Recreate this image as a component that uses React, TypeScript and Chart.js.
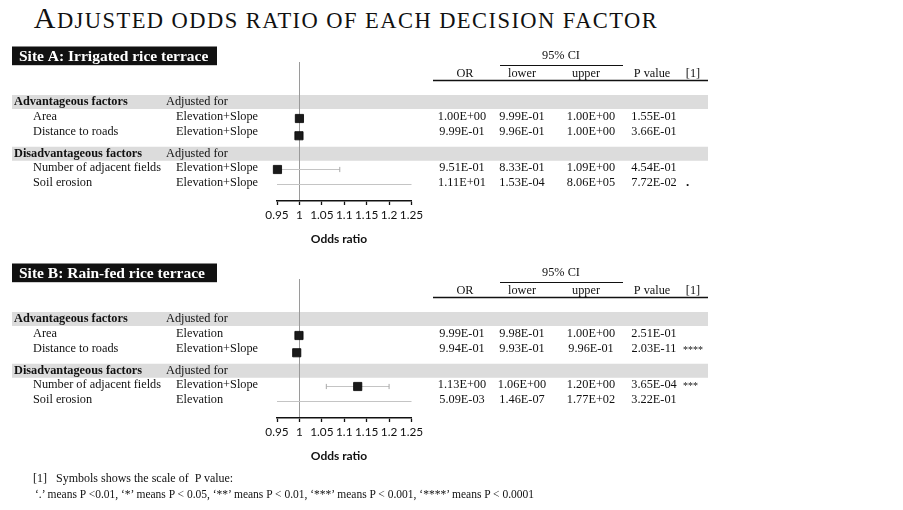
import React, { useEffect, useRef } from "react";
import { Chart, registerables } from "chart.js";

Chart.register(...registerables);

// ---------------- data ----------------
const titleText = "Adjusted odds ratio of each decision factor";
const siteTitles = ["Site A: Irrigated rice terrace", "Site B: Rain-fed rice terrace"];
const groupHeaders = ["Advantageous factors", "Disadvantageous factors"];
const adjustedHeader = "Adjusted for";
const factors = ["Area", "Distance to roads", "Number of adjacent fields", "Soil erosion"];
const columnHeaders = ["OR", "lower", "upper", "P value", "[1]"];
const ciHeader = "95% CI";

const siteAAdjusted = ["Elevation+Slope", "Elevation+Slope", "Elevation+Slope", "Elevation+Slope"];
const siteAOR = [1.0, 0.999, 0.951, 11.1];
const siteALower = [0.999, 0.996, 0.833, 1.53e-4];
const siteAUpper = [1.0, 1.0, 1.09, 8.06e5];
const siteAP = [1.55e-1, 3.66e-1, 4.54e-1, 7.72e-2];
const siteASymbols = ["", "", "", "."];

const siteBAdjusted = ["Elevation", "Elevation+Slope", "Elevation+Slope", "Elevation"];
const siteBOR = [0.999, 0.994, 1.13, 5.09e-3];
const siteBLower = [0.998, 0.993, 1.06, 1.46e-7];
const siteBUpper = [1.0, 0.996, 1.2, 1.77e2];
const siteBP = [2.51e-1, 2.03e-11, 3.65e-4, 3.22e-1];
const siteBSymbols = ["", "****", "***", ""];

const tickValues = [0.95, 1, 1.05, 1.1, 1.15, 1.2, 1.25];
const tickLabels = ["0.95", "1", "1.05", "1.1", "1.15", "1.2", "1.25"];
const axisTitle = "Odds ratio";

const footnote1 = "[1]   Symbols shows the scale of  P value:";
const footnote2 =
  "\u2018.\u2019 means P <0.01, \u2018*\u2019 means P < 0.05, \u2018**\u2019 means P < 0.01, \u2018***\u2019 means P < 0.001, \u2018****\u2019 means P < 0.0001";

// ---------------- layout / style ----------------
const SERIF = "'Liberation Serif', 'Times New Roman', serif";
const SANS = "Lato, 'Noto Sans', sans-serif";
const CANVAS_W = 903;
const CANVAS_H = 215;
const ROW_PX = 15;
const AREA_TOP = 22;
const AREA_BOTTOM = 161;
const HEADER_Y = 62; // pixel of slot 0
const AXIS_BOX_H = 30;
const X_LEFT = 277;
const X_RIGHT = 411.5;

const headerSlots = [0, 3.45];
const rowSlots = [1, 2, 4.4, 5.4];
const markerSlots = [1.1, 2.25, 4.5, 5.5];

const BAND = "#dcdcdc";

function sci(v: number): string {
  const [m, e] = v.toExponential(2).split("e");
  const n = parseInt(e, 10);
  return m + "E" + (n < 0 ? "-" : "+") + String(Math.abs(n)).padStart(2, "0");
}

type Site = {
  title: string;
  adjusted: string[];
  or: number[];
  lower: number[];
  upper: number[];
  p: number[];
  symbols: string[];
};

const siteA: Site = {
  title: siteTitles[0],
  adjusted: siteAAdjusted,
  or: siteAOR,
  lower: siteALower,
  upper: siteAUpper,
  p: siteAP,
  symbols: siteASymbols,
};
const siteB: Site = {
  title: siteTitles[1],
  adjusted: siteBAdjusted,
  or: siteBOR,
  lower: siteBLower,
  upper: siteBUpper,
  p: siteBP,
  symbols: siteBSymbols,
};

function tablePlugin(site: Site) {
  return {
    id: "forestTable",
    beforeDraw(chart: any) {
      const { ctx } = chart;
      const ys = chart.scales.y;
      ctx.save();
      ctx.fillStyle = BAND;
      headerSlots.forEach((s) => {
        const yy = ys.getPixelForValue(s);
        ctx.fillRect(12, yy - 7, 696, 14);
      });
      ctx.restore();
    },
    afterDraw(chart: any) {
      const { ctx, chartArea } = chart;
      const ys = chart.scales.y;
      ctx.save();
      // site box
      ctx.fillStyle = "#111";
      ctx.fillRect(12, 6.5, 205, 18.7);
      ctx.fillStyle = "#fff";
      ctx.font = `bold 15.5px ${SERIF}`;
      ctx.textBaseline = "middle";
      ctx.textAlign = "left";
      ctx.fillText(site.title, 19, 16.5);

      // table header
      ctx.fillStyle = "#111";
      ctx.font = `12.3px ${SERIF}`;
      ctx.textAlign = "center";
      ctx.fillText(ciHeader, 561, 15.5);
      ctx.strokeStyle = "#111";
      ctx.lineWidth = 1;
      ctx.beginPath();
      ctx.moveTo(500, 25.5);
      ctx.lineTo(623, 25.5);
      ctx.stroke();
      const hx = [465, 522, 586, 652, 693];
      columnHeaders.forEach((h, i) => ctx.fillText(h, hx[i], 34));
      ctx.lineWidth = 1.6;
      ctx.beginPath();
      ctx.moveTo(433, 40.5);
      ctx.lineTo(708, 40.5);
      ctx.stroke();

      // group headers
      groupHeaders.forEach((g, gi) => {
        const yy = ys.getPixelForValue(headerSlots[gi]);
        ctx.textAlign = "left";
        ctx.font = `bold 12.3px ${SERIF}`;
        ctx.fillText(g, 14, yy);
        ctx.font = `12.3px ${SERIF}`;
        ctx.fillText(adjustedHeader, 166, yy);
      });

      // rows
      factors.forEach((f, i) => {
        const yy = ys.getPixelForValue(rowSlots[i]);
        ctx.font = `12.3px ${SERIF}`;
        ctx.textAlign = "left";
        ctx.fillText(f, 33, yy);
        ctx.fillText(site.adjusted[i], 176, yy);
        ctx.textAlign = "center";
        ctx.fillText(sci(site.or[i]), 462, yy);
        ctx.fillText(sci(site.lower[i]), 522, yy);
        ctx.fillText(sci(site.upper[i]), 591, yy);
        ctx.fillText(sci(site.p[i]), 654, yy);
        ctx.textAlign = "left";
        const sym = site.symbols[i];
        if (sym) {
          if (sym === ".") {
            ctx.font = `bold 13px ${SERIF}`;
            ctx.fillText(sym, 686, yy);
          } else {
            ctx.font = `10px ${SERIF}`;
            ctx.fillText(sym, 683, yy + 1);
          }
        }
      });

      // axis title
      ctx.font = `bold 12px ${SANS}`;
      ctx.textAlign = "center";
      ctx.fillText(axisTitle, 339, chartArea.bottom + 38);
      ctx.restore();
    },
  };
}

function buildConfig(site: Site): any {
  const ciSets = factors.map((_, i) => ({
    type: "line",
    data: [
      { x: site.lower[i], y: markerSlots[i] },
      { x: site.upper[i], y: markerSlots[i] },
    ],
    borderColor: "#c4c4c4",
    borderWidth: 1,
    pointStyle: "line",
    pointRotation: 90,
    pointRadius: 2.6,
    pointBorderColor: "#a8a8a8",
    pointBorderWidth: 1,
    pointBackgroundColor: "#a8a8a8",
    showLine: true,
    clip: 0,
    order: 2,
  }));
  const markerSet = {
    type: "scatter",
    data: site.or.map((v, i) => ({ x: v, y: markerSlots[i] })),
    pointStyle: "rect",
    pointRadius: 5.8,
    backgroundColor: "#1a1a1a",
    borderColor: "#000",
    borderWidth: 0.8,
    clip: 6,
    order: 1,
  };
  return {
    type: "scatter",
    data: { datasets: [markerSet, ...ciSets] },
    options: {
      animation: false,
      responsive: false,
      events: [],
      layout: {
        padding: {
          left: X_LEFT,
          right: CANVAS_W - X_RIGHT,
          top: AREA_TOP,
          bottom: CANVAS_H - AREA_BOTTOM - AXIS_BOX_H,
        },
      },
      plugins: { legend: { display: false }, tooltip: { enabled: false } },
      scales: {
        x: {
          type: "linear",
          min: tickValues[0],
          max: tickValues[tickValues.length - 1],
          afterBuildTicks: (scale: any) => {
            scale.ticks = tickValues.map((v) => ({ value: v }));
          },
          afterFit: (scale: any) => {
            scale.height = AXIS_BOX_H;
          },
          grid: {
            drawOnChartArea: true,
            drawTicks: true,
            tickLength: 4,
            lineWidth: 1,
            color: (c: any) => (c.tick && Math.abs(c.tick.value - 1) < 1e-9 ? "#9a9a9a" : "rgba(0,0,0,0)"),
            tickColor: "#111",
            tickWidth: 1.3,
          },
          border: { display: true, color: "#111", width: 1.6 },
          ticks: {
            autoSkip: false,
            maxRotation: 0,
            padding: 3,
            color: "#111",
            font: { family: SANS, size: 11.8 },
            callback: (_v: any, i: number) => tickLabels[i],
          },
        },
        y: {
          type: "linear",
          display: false,
          reverse: true,
          min: -(HEADER_Y - AREA_TOP) / ROW_PX,
          max: (AREA_BOTTOM - HEADER_Y) / ROW_PX,
        },
      },
    },
    plugins: [tablePlugin(site)],
  };
}

function SiteChart({ site, top }: { site: Site; top: number }) {
  const ref = useRef<HTMLCanvasElement>(null);
  useEffect(() => {
    if (!ref.current) return;
    const chart = new Chart(ref.current, buildConfig(site));
    return () => chart.destroy();
  }, [site]);
  return (
    <canvas
      ref={ref}
      width={CANVAS_W}
      height={CANVAS_H}
      style={{ position: "absolute", left: 0, top, width: CANVAS_W, height: CANVAS_H }}
    />
  );
}

export default function App() {
  return (
    <div
      style={{
        position: "absolute",
        left: 0,
        top: 0,
        width: CANVAS_W,
        height: 510,
        background: "#fff",
        overflow: "hidden",
      }}
    >
      <div
        style={{
          position: "absolute",
          left: 0,
          top: 3,
          width: 692,
          textAlign: "center",
          fontFamily: SERIF,
          fontSize: 30,
          lineHeight: "30px",
          letterSpacing: 1.45,
          color: "#111",
          whiteSpace: "nowrap",
        }}
      >
        <span>{titleText.slice(0, 1)}</span>
        <span style={{ fontSize: 22.5, textTransform: "uppercase" }}>{titleText.slice(1)}</span>
      </div>
      <SiteChart site={siteA} top={40} />
      <SiteChart site={siteB} top={257} />
      <div
        style={{
          position: "absolute",
          left: 33,
          top: 471,
          fontFamily: SERIF,
          fontSize: 12,
          lineHeight: "14px",
          whiteSpace: "pre",
          color: "#111",
        }}
      >
        {footnote1}
      </div>
      <div
        style={{
          position: "absolute",
          left: 35,
          top: 487,
          fontFamily: SERIF,
          fontSize: 11.5,
          lineHeight: "14px",
          whiteSpace: "pre",
          color: "#111",
        }}
      >
        {footnote2}
      </div>
    </div>
  );
}
